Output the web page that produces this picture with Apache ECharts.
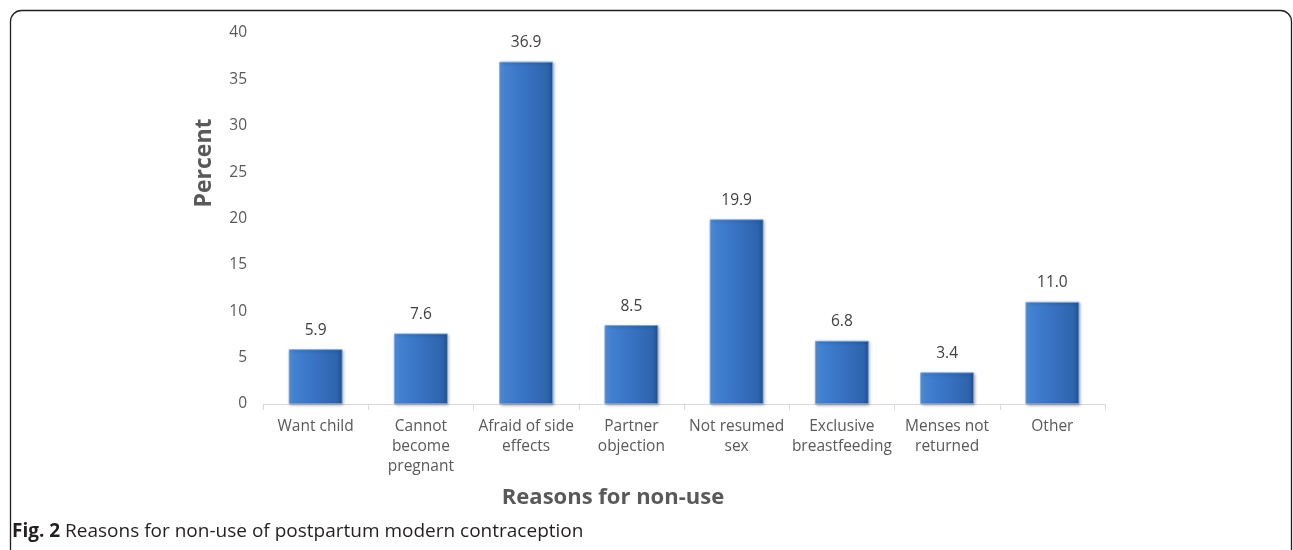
<!DOCTYPE html>
<html>
<head>
<meta charset="utf-8">
<script src="https://cdn.jsdelivr.net/npm/echarts@6/dist/echarts.min.js"></script>
<style>
html,body{margin:0;padding:0;background:#fff;}
#chart{width:1293px;height:550px;}
</style>
</head>
<body>
<div id="chart"></div>
<script>
const categories = ['Want child', 'Cannot\nbecome\npregnant', 'Afraid of side\neffects', 'Partner\nobjection', 'Not resumed\nsex', 'Exclusive\nbreastfeeding', 'Menses not\nreturned', 'Other'];
const values = [5.9, 7.6, 36.9, 8.5, 19.9, 6.8, 3.4, 11.0];
const yTicks = { min: 0, max: 40, interval: 5 };
const yTitle = 'Percent';
const xTitle = 'Reasons for non-use';
const captionBold = 'Fig. 2';
const captionText = ' Reasons for non-use of postpartum modern contraception';

const chart = echarts.init(document.getElementById('chart'), null, { renderer: 'canvas' });
const FONT = '"Open Sans", sans-serif';
const barGrad = {
  type: 'linear', x: 0, y: 0, x2: 1, y2: 0,
  colorStops: [
    { offset: 0, color: '#5b98df' },
    { offset: 0.1, color: '#4381d1' },
    { offset: 0.5, color: '#3872c2' },
    { offset: 0.9, color: '#2e64ad' },
    { offset: 1, color: '#214f8a' }
  ]
};
chart.setOption({
  animation: false,
  backgroundColor: '#fff',
  grid: { left: 263, right: 188, top: 33, bottom: 146, containLabel: false },
  xAxis: {
    type: 'category',
    data: categories,
    axisLine: { lineStyle: { color: '#d9d9d9', width: 1 } },
    axisTick: { show: true, length: 6, interval: 0, lineStyle: { color: '#d9d9d9' } },
    axisLabel: { interval: 0, color: '#595959', fontSize: 15.5, fontFamily: FONT, lineHeight: 20, margin: 13 }
  },
  yAxis: {
    type: 'value',
    min: yTicks.min, max: yTicks.max, interval: yTicks.interval,
    splitLine: { show: false },
    axisLine: { show: false },
    axisTick: { show: false },
    axisLabel: { color: '#595959', fontSize: 15.5, fontFamily: FONT, margin: 16 }
  },
  series: [{
    type: 'bar',
    data: values,
    barWidth: '51%',
    itemStyle: {
      color: barGrad,
      borderColor: '#6ba5e8',
      borderWidth: 0.8,
      shadowBlur: 3,
      shadowColor: 'rgba(0,0,0,0.35)',
      shadowOffsetX: 1,
      shadowOffsetY: 1
    },
    label: {
      show: true, position: 'top', distance: 11,
      color: '#404040', fontSize: 15.5, fontFamily: FONT,
      formatter: p => p.value.toFixed(1)
    }
  }],
  graphic: [
    {
      type: 'rect',
      shape: { x: 10.5, y: 10.5, width: 1281, height: 560, r: [11, 11, 0, 0] },
      style: { fill: 'none', stroke: '#231f20', lineWidth: 1.3 },
      silent: true
    },
    {
      type: 'text',
      x: 204, y: 163, rotation: Math.PI / 2,
      style: { text: yTitle, fontSize: 23, fontWeight: 'bold', fontFamily: FONT, fill: '#595959', align: 'center', verticalAlign: 'middle' }
    },
    {
      type: 'text',
      x: 613, y: 498,
      style: { text: xTitle, fontSize: 22, fontWeight: 'bold', fontFamily: FONT, fill: '#595959', align: 'center', verticalAlign: 'middle' }
    },
    {
      type: 'text',
      x: 12, y: 532,
      style: {
        text: '{b|' + captionBold + '}{n|' + captionText + '}',
        verticalAlign: 'middle',
        rich: {
          b: { fontWeight: 'bold', fontSize: 19, fontFamily: FONT, fill: '#231f20' },
          n: { fontSize: 19, fontFamily: FONT, fill: '#231f20' }
        }
      }
    }
  ]
});
</script>
</body>
</html>
